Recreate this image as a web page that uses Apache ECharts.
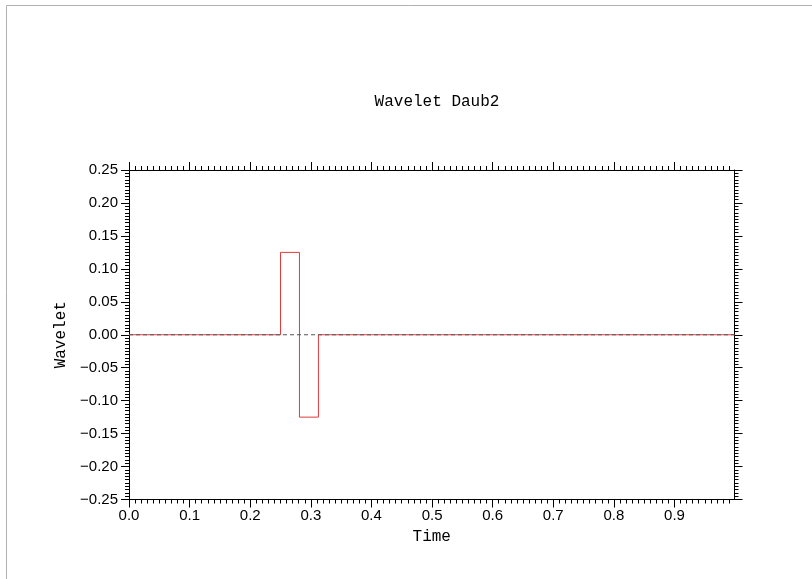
<!DOCTYPE html>
<html>
<head>
<meta charset="utf-8">
<script src="https://cdn.jsdelivr.net/npm/echarts@6/dist/echarts.min.js"></script>
<style>
  html, body { margin: 0; padding: 0; background: #fff; }
  #chart { width: 812px; height: 579px; }
</style>
</head>
<body>
<div id="chart"></div>
<script>
// Daubechies-2 (Haar) wavelet, step vertices
const waveTime = [0, 0.25, 0.25, 0.28125, 0.28125, 0.3125, 0.3125, 0.999];
const waveValue = [0, 0, 0.125, 0.125, -0.125, -0.125, 0, 0];

// zero reference line
const zeroTime = [0, 0.999];
const zeroValue = [0, 0];

// axis ticks
const xTicks = [0, 0.1, 0.2, 0.3, 0.4, 0.5, 0.6, 0.7, 0.8, 0.9];
const xMin = 0, xMax = 0.999;
const yMin = -0.25, yMax = 0.25, yStep = 0.05;

const titleText = 'Wavelet Daub2';
const xName = 'Time';
const yName = 'Wavelet';

const monoFont = '"Liberation Mono", "DejaVu Sans Mono", monospace';
const sansFont = '"Liberation Sans", Arial, Helvetica, sans-serif';

const pairs = (xs, ys) => xs.map((x, i) => [x, ys[i]]);

const axisLine = { show: true, onZero: false, lineStyle: { color: '#000', width: 1 } };
const tick = { show: true, inside: false, length: 8, lineStyle: { color: '#000', width: 1 } };
const minor = { show: true, splitNumber: 10, length: 4, lineStyle: { color: '#000', width: 1 } };

function xAxisDef(pos, showLabels) {
  return {
    type: 'value', position: pos, min: xMin, max: xMax,
    interval: 0.1,
    axisLine: axisLine,
    axisTick: Object.assign({ customValues: xTicks }, tick),
    minorTick: minor,
    splitLine: { show: false },
    axisLabel: showLabels ? {
      show: true, customValues: xTicks, margin: 9,
      color: '#000', fontFamily: sansFont, fontSize: 15,
      formatter: v => v.toFixed(1)
    } : { show: false },
    name: showLabels ? xName : '',
    nameLocation: 'middle', nameGap: 29,
    nameTextStyle: { color: '#000', fontFamily: monoFont, fontSize: 16 }
  };
}

function yAxisDef(pos, showLabels) {
  return {
    type: 'value', position: pos, min: yMin, max: yMax, interval: yStep,
    axisLine: axisLine,
    axisTick: tick,
    minorTick: minor,
    splitLine: { show: false },
    axisLabel: showLabels ? {
      show: true, margin: 11,
      color: '#000', fontFamily: sansFont, fontSize: 15,
      formatter: v => v.toFixed(2).replace('-', '\u2212')
    } : { show: false },
    name: showLabels ? yName : '',
    nameLocation: 'middle', nameGap: 57, nameRotate: 90,
    nameTextStyle: { color: '#000', fontFamily: monoFont, fontSize: 16 }
  };
}

const chart = echarts.init(document.getElementById('chart'), null, { renderer: 'canvas' });
chart.setOption({
  backgroundColor: '#fff',
  animation: false,
  title: {
    text: titleText, left: 432, top: 89, textAlign: 'center',
    textStyle: { color: '#000', fontFamily: monoFont, fontSize: 16, fontWeight: 'normal' }
  },
  grid: { left: 129, right: 77.5, top: 170, bottom: 79.5, containLabel: false },
  xAxis: [xAxisDef('bottom', true), xAxisDef('top', false)],
  yAxis: [yAxisDef('left', true), yAxisDef('right', false)],
  graphic: [
    { type: 'line', shape: { x1: 6.5, y1: 5.5, x2: 6.5, y2: 579 }, style: { stroke: '#b0b0b0', lineWidth: 1 } },
    { type: 'line', shape: { x1: 6.5, y1: 5.5, x2: 812, y2: 5.5 }, style: { stroke: '#b0b0b0', lineWidth: 1 } }
  ],
  series: [
    {
      type: 'line', data: pairs(waveTime, waveValue),
      showSymbol: false, symbol: 'none',
      lineStyle: { color: '#e03a3a', width: 1 }, z: 2
    },
    {
      type: 'line', data: pairs(zeroTime, zeroValue),
      showSymbol: false, symbol: 'none',
      lineStyle: { color: '#555', width: 1, type: [4, 3] }, z: 3
    }
  ]
});
</script>
</body>
</html>
